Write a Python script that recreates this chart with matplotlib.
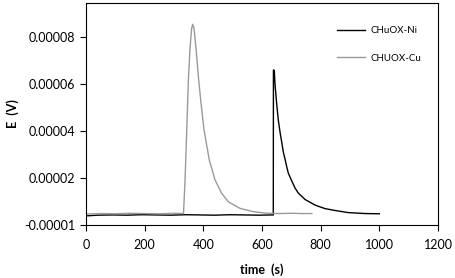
import matplotlib.pyplot as plt
from matplotlib.ticker import FixedLocator, FixedFormatter

plt.rcParams['font.family'] = ['Lato', 'DejaVu Sans']

# CHuOX-Ni (black), time in s and E in V
ni_t = [0, 40, 90, 140, 190, 240, 290, 340, 390, 440, 490, 540, 590, 630, 638.5,
        639, 641.9, 644.3, 650.1, 655.6, 661.4, 667.2, 672.6, 678.4, 684.2, 689.7,
        701.3, 712.5, 723.8, 746.6, 780.7, 814.8, 848.9, 894.2, 951.1, 1000]
ni_e = [4.0e-6, 4.3e-6, 4.4e-6, 4.3e-6, 4.5e-6, 4.4e-6, 4.3e-6, 4.5e-6, 4.4e-6,
        4.3e-6, 4.5e-6, 4.4e-6, 4.3e-6, 4.4e-6, 4.4e-6,
        6.61e-5, 6.59e-5, 6.01e-5, 5.16e-5, 4.48e-5, 3.97e-5, 3.54e-5, 3.12e-5,
        2.82e-5, 2.50e-5, 2.22e-5, 1.89e-5, 1.59e-5, 1.37e-5, 1.10e-5, 8.6e-6,
        7.1e-6, 6.3e-6, 5.4e-6, 5.0e-6, 4.9e-6]

# CHUOX-Cu (grey)
cu_t = [0, 50, 100, 150, 200, 250, 300, 332.4, 337.5, 343.3, 348.8, 354.5, 360.3,
        363.7, 368.2, 375, 383.5, 391, 402.3, 420.3, 439.8, 462.6, 485.1, 525,
        570.3, 610.2, 650, 700, 740, 770]
cu_e = [4.8e-6, 5.0e-6, 4.9e-6, 5.1e-6, 5.0e-6, 4.9e-6, 5.1e-6, 5.0e-6, 1.86e-5,
        3.98e-5, 6.11e-5, 7.53e-5, 8.38e-5, 8.55e-5, 8.38e-5, 7.54e-5, 6.27e-5,
        5.33e-5, 4.06e-5, 2.78e-5, 1.93e-5, 1.36e-5, 1.0e-5, 7.2e-6, 5.8e-6,
        5.2e-6, 5.0e-6, 5.1e-6, 5.0e-6, 5.0e-6]

x_ticks = [0, 200, 400, 600, 800, 1000, 1200]
y_ticks = [0, 2e-5, 4e-5, 6e-5, 8e-5]
y_labels = ['-0.00001', '0.00002', '0.00004', '0.00006', '0.00008']

fig = plt.figure(figsize=(4.56, 2.78), dpi=100)
ax = fig.add_axes([0.1886, 0.1896, 0.7719, 0.8007])

ax.plot(ni_t, ni_e, color='#000000', lw=1.0, label='CHuOX-Ni')
ax.plot(cu_t, cu_e, color='#9a9a9a', lw=1.0, label='CHUOX-Cu')

ax.set_xlim(0, 1200)
ax.set_ylim(0, 9.47e-5)
ax.set_xticks(x_ticks)
ax.yaxis.set_major_locator(FixedLocator(y_ticks))
ax.yaxis.set_major_formatter(FixedFormatter(y_labels))
ax.tick_params(direction='out', length=4, width=0.8, labelsize=9, colors='black')
ax.tick_params(axis='x', pad=6)
for s in ax.spines.values():
    s.set_linewidth(0.8)

ax.set_xlabel('time  (s)', fontsize=9, fontweight='bold', labelpad=9)
ax.set_ylabel('E  (V)', fontsize=9, fontweight='bold', labelpad=4)

ax.legend(loc='upper left', bbox_to_anchor=(0.713, 0.895), frameon=False,
          borderpad=0, borderaxespad=0, fontsize=7, handlelength=2.9,
          handletextpad=0.5, labelspacing=1.9)

fig.savefig('out.png', dpi=100)
